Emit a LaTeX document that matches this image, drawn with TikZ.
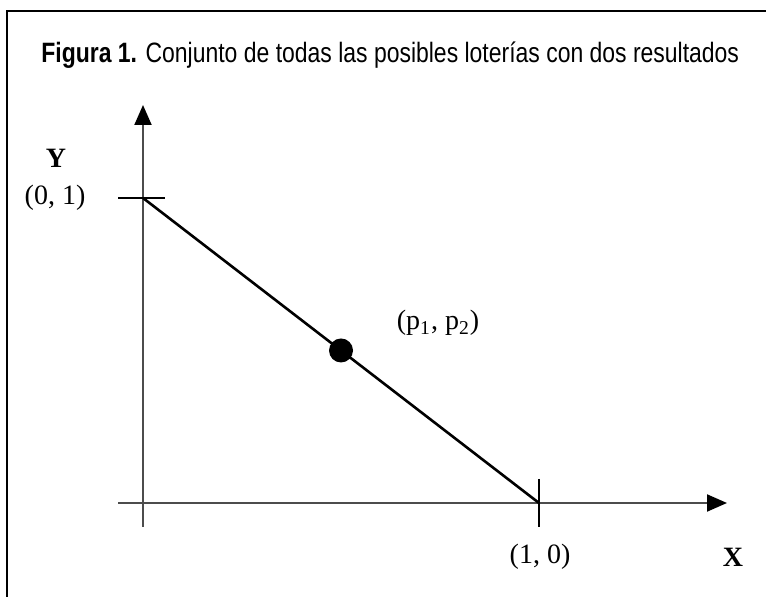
\documentclass[tikz,border=0pt]{standalone}
\usepackage{fontspec}
\setmainfont{Liberation Serif}
\newfontfamily\titlefont[FakeStretch=0.82]{Liberation Sans}
\usetikzlibrary{arrows.meta}

\begin{document}
\begin{tikzpicture}[x=0.5pt,y=-0.5pt,
    axis/.style={draw=black!70,line width=1pt,-{Triangle[length=10pt,width=8.5pt,color=black]}},
    tick/.style={draw,line width=0.9pt},
    lbl/.style={font=\fontsize{14}{16}\selectfont,inner sep=0pt}]
    \useasboundingbox (0,0) rectangle (766,597);
    % frame, open at right and bottom
    \draw[line width=1pt] (7,620) -- (7,11) -- (790,11);
    % title
    \node[anchor=base west,inner sep=0pt] (title) at (41,63)
        {\titlefont\fontsize{14}{16}\selectfont\textbf{Figura 1.} Conjunto de todas las posibles loterías con dos resultados};
    % axes
    \coordinate (O) at (143,503);
    \coordinate (ytop) at (143,105);
    \coordinate (xend) at (727,503);
    \coordinate (ybot) at (143,527);
    \coordinate (xbeg) at (118,503);
    \draw[axis] (ybot) -- (ytop);
    \draw[axis] (xbeg) -- (xend);
    % end points and ticks
    \coordinate (A) at (143,198);
    \coordinate (B) at (539,503);
    \draw[tick] ([xshift=-12.5pt]A) -- ([xshift=11pt]A);
    \draw[tick] ([yshift=12pt]B) -- ([yshift=-12pt]B);
    % set of lotteries
    \draw[line width=1.3pt] (A) -- (B);
    \fill (barycentric cs:A=1,B=1) circle (6pt) coordinate (P);
    % labels
    \node[lbl,font=\fontsize{14}{16}\selectfont\bfseries] (ylab) at (56,158) {Y};
    \node[lbl] (alab) at (55,198) {(0, 1)};
    \node[lbl] (plab) at (438,323) {(p\textsubscript{1}, p\textsubscript{2})};
    \node[lbl] (blab) at (540,557) {(1, 0)};
    \node[lbl,font=\fontsize{14}{16}\selectfont\bfseries] (xlab) at (733,557) {X};
\end{tikzpicture}
\end{document}
